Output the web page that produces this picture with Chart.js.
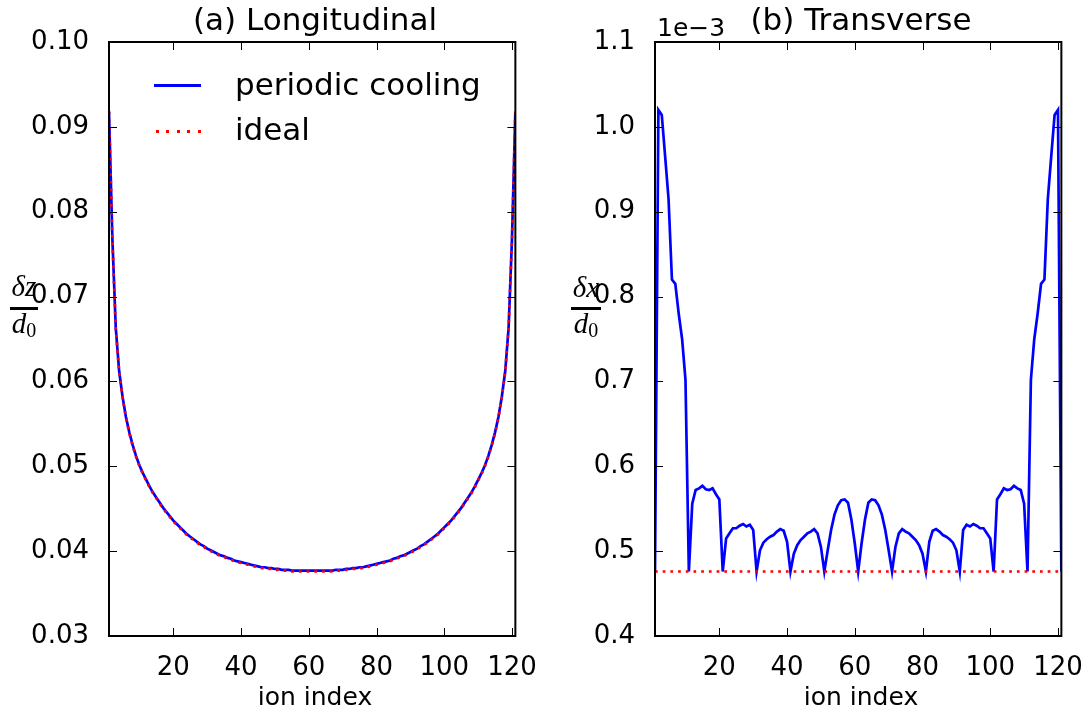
<!DOCTYPE html>
<html><head><meta charset="utf-8">
<script src="https://cdn.jsdelivr.net/npm/chart.js@4.4.1/dist/chart.umd.min.js"></script>
<style>
body{margin:0;background:#fff;}
#wrap{position:relative;width:1092px;height:715px;overflow:hidden;font-family:"DejaVu Sans";color:#000;background:#fff;}
canvas{position:absolute;top:0;}
.t{position:absolute;font-size:25px;white-space:nowrap;line-height:25px;}
.big{font-size:31px;line-height:31px;}
.m{position:absolute;font-family:"Liberation Serif";font-style:italic;font-size:29px;line-height:29px;text-align:center;white-space:nowrap;}
.m sub{font-style:normal;font-size:20px;vertical-align:-4px;line-height:0;}
.bar{position:absolute;height:3px;background:#000;}
</style></head>
<body>
<div id="wrap">
<canvas id="cL" width="546" height="715" style="left:0"></canvas>
<canvas id="cR" width="546" height="715" style="left:546px"></canvas>
<div class="t big" style="left:109px;width:412px;text-align:center;top:4px">(a) Longitudinal</div>
<div class="t big" style="left:655px;width:412px;text-align:center;top:4px">(b) Transverse</div>
<div class="t" style="left:657px;top:15px">1e−3</div>
<div class="t" style="left:109px;width:412px;text-align:center;top:684px">ion index</div>
<div class="t" style="left:655px;width:412px;text-align:center;top:684px">ion index</div>
<div style="position:absolute;left:154px;top:84px;width:47px;height:3px;background:#00f"></div>
<div style="position:absolute;left:155.5px;top:130px;width:46px;height:3px;background:repeating-linear-gradient(to right,#f00 0 3px,transparent 3px 10.5px)"></div>
<div class="t big" style="left:235px;top:69px">periodic cooling</div>
<div class="t big" style="left:235px;top:114px">ideal</div>
<div class="m" style="left:4px;width:40px;top:272px">δz</div>
<div class="bar" style="left:10px;top:307px;width:28px"></div>
<div class="m" style="left:4px;width:40px;top:309px">d<sub>0</sub></div>
<div class="m" style="left:566px;width:40px;top:273px">δx</div>
<div class="bar" style="left:571px;top:307px;width:30px"></div>
<div class="m" style="left:566px;width:40px;top:309px">d<sub>0</sub></div>
</div>
<script>
const ionIndex = Array.from({length:121},(_,i)=>i+1);
const xTicks = [20,40,60,80,100,120];
const yTicksLong = [0.03,0.04,0.05,0.06,0.07,0.08,0.09,0.10];
const yTicksTrans = [0.4,0.5,0.6,0.7,0.8,0.9,1.0,1.1];

const longPeriodic = [
0.0918,0.0768,0.0663,0.0612,0.0582,0.0558,0.0540,0.0525,0.0512,0.0501,
0.0492,0.0484,0.0476,0.0469,0.0463,0.0457,0.0451,0.0446,0.0441,0.0436,
0.0432,0.0428,0.0424,0.0420,0.0417,0.0414,0.0411,0.0408,0.0406,0.0403,
0.0401,0.0399,0.0397,0.0395,0.0394,0.0392,0.0391,0.0389,0.0388,0.0387,
0.0386,0.0385,0.0384,0.0383,0.0382,0.0381,0.0381,0.0380,0.0380,0.0379,
0.0379,0.0378,0.0378,0.0378,0.0377,0.0377,0.0377,0.0377,0.0377,0.0377,
0.0377,
0.0377,0.0377,0.0377,0.0377,0.0377,0.0377,0.0378,0.0378,0.0378,0.0379,
0.0379,0.0380,0.0380,0.0381,0.0381,0.0382,0.0383,0.0384,0.0385,0.0386,
0.0387,0.0388,0.0389,0.0391,0.0392,0.0394,0.0395,0.0397,0.0399,0.0401,
0.0403,0.0406,0.0408,0.0411,0.0414,0.0417,0.0420,0.0424,0.0428,0.0432,
0.0436,0.0441,0.0446,0.0451,0.0457,0.0463,0.0469,0.0476,0.0484,0.0492,
0.0501,0.0512,0.0525,0.0540,0.0558,0.0582,0.0612,0.0663,0.0768,0.0918];

const longIdeal = [
0.0918,0.0767,0.0662,0.0611,0.0581,0.0557,0.0539,0.0524,0.0511,0.0500,
0.0491,0.0483,0.0475,0.0468,0.0462,0.0456,0.0450,0.0445,0.0440,0.0435,
0.0431,0.0427,0.0423,0.0419,0.0416,0.0413,0.0410,0.0407,0.0405,0.0402,
0.0400,0.0398,0.0396,0.0394,0.0393,0.0391,0.0390,0.0388,0.0387,0.0386,
0.0385,0.0384,0.0383,0.0382,0.0381,0.0380,0.0380,0.0379,0.0379,0.0378,
0.0378,0.0377,0.0377,0.0377,0.0376,0.0376,0.0376,0.0376,0.0376,0.0376,
0.0376,
0.0376,0.0376,0.0376,0.0376,0.0376,0.0376,0.0377,0.0377,0.0377,0.0378,
0.0378,0.0379,0.0379,0.0380,0.0380,0.0381,0.0382,0.0383,0.0384,0.0385,
0.0386,0.0387,0.0388,0.0390,0.0391,0.0393,0.0394,0.0396,0.0398,0.0400,
0.0402,0.0405,0.0407,0.0410,0.0413,0.0416,0.0419,0.0423,0.0427,0.0431,
0.0435,0.0440,0.0445,0.0450,0.0456,0.0462,0.0468,0.0475,0.0483,0.0491,
0.0500,0.0511,0.0524,0.0539,0.0557,0.0581,0.0611,0.0662,0.0767,0.0918];

// transverse, in units of 1e-3
const transPeriodic = [
0.476,1.020,1.014,0.965,0.915,0.820,0.815,0.780,0.750,0.702,
0.476,0.556,0.572,0.574,0.577,0.573,0.572,0.574,0.567,0.561,
0.476,0.515,0.521,0.527,0.527,0.530,0.532,0.529,0.531,0.525,
0.476,0.501,0.510,0.514,0.517,0.519,0.523,0.526,0.524,0.511,
0.476,0.497,0.507,0.513,0.517,0.521,0.523,0.526,0.521,0.505,
0.476,0.501,0.525,0.543,0.554,0.560,0.561,0.557,0.537,0.509,
0.476,
0.509,0.537,0.557,0.561,0.560,0.554,0.543,0.525,0.501,0.476,
0.505,0.521,0.526,0.523,0.521,0.517,0.513,0.507,0.497,0.476,
0.511,0.524,0.526,0.523,0.519,0.517,0.514,0.510,0.501,0.476,
0.525,0.531,0.529,0.532,0.530,0.527,0.527,0.521,0.515,0.476,
0.561,0.567,0.574,0.572,0.573,0.577,0.574,0.572,0.556,0.476,
0.702,0.750,0.780,0.815,0.820,0.915,0.965,1.014,1.020,0.476];
const transIdealIdx = [1,121];
const transIdeal = [0.476,0.476];

Chart.defaults.font.family = "DejaVu Sans";
Chart.defaults.font.size = 26;
Chart.defaults.color = '#000';

const frameTicks = {
  id:'frameTicks',
  afterDatasetsDraw(chart){
    const {ctx, chartArea:a, scales:{x,y}} = chart;
    ctx.save();
    ctx.strokeStyle='#000'; ctx.lineWidth=1;
    ctx.beginPath();
    x.ticks.forEach(t=>{const p=Math.round(x.getPixelForValue(t.value))+0.5;
      ctx.moveTo(p,a.bottom); ctx.lineTo(p,a.bottom-8); ctx.moveTo(p,a.top); ctx.lineTo(p,a.top+8);});
    y.ticks.forEach(t=>{const p=Math.round(y.getPixelForValue(t.value))+0.5;
      ctx.moveTo(a.left,p); ctx.lineTo(a.left+8,p); ctx.moveTo(a.right,p); ctx.lineTo(a.right-8,p);});
    ctx.stroke();
    ctx.lineWidth=2;
    ctx.strokeRect(a.left, a.top, a.right-a.left, a.bottom-a.top);
    ctx.restore();
  }
};

function pts(xs, ys){ return xs.map((x,i)=>({x, y: ys[i]})); }

function makeChart(id, datasets, yMin, yMax, yTicks, dec){
  return new Chart(document.getElementById(id), {
    type:'line',
    data:{datasets},
    options:{
      responsive:false, animation:false, devicePixelRatio:1,
      layout:{padding:{left:0,right:25,top:42,bottom:0}},
      plugins:{legend:{display:false}, tooltip:{enabled:false}, title:{display:false}},
      elements:{point:{radius:0}, line:{tension:0}},
      scales:{
        x:{type:'linear', min:1, max:121,
           grid:{display:false}, border:{display:false},
           ticks:{padding:9, maxRotation:0, autoSkip:false, color:'#000'},
           afterBuildTicks:s=>{s.ticks = xTicks.map(v=>({value:v}));},
           afterFit:s=>{s.height=79;}},
        y:{type:'linear', min:yMin, max:yMax,
           grid:{display:false}, border:{display:false},
           ticks:{padding:12, autoSkip:false, color:'#000', callback:v=>Number(v).toFixed(dec)},
           afterBuildTicks:s=>{s.ticks = yTicks.map(v=>({value:v}));},
           afterFit:s=>{s.width=109;}}
      }
    },
    plugins:[frameTicks]
  });
}

// dataset 0 is drawn on top in Chart.js, so the red "ideal" line comes first
makeChart('cL', [
  {data:pts(ionIndex,longIdeal), borderColor:'#ff0000', borderWidth:2.7, borderDash:[2.7,5], fill:false},
  {data:pts(ionIndex,longPeriodic), borderColor:'#0000ff', borderWidth:2.7, fill:false}
], 0.03, 0.10, yTicksLong, 2);

makeChart('cR', [
  {data:pts(transIdealIdx,transIdeal), borderColor:'#ff0000', borderWidth:2.7, borderDash:[2.7,5], fill:false},
  {data:pts(ionIndex,transPeriodic), borderColor:'#0000ff', borderWidth:2.7, fill:false}
], 0.4, 1.1, yTicksTrans, 1);
</script>
</body></html>
